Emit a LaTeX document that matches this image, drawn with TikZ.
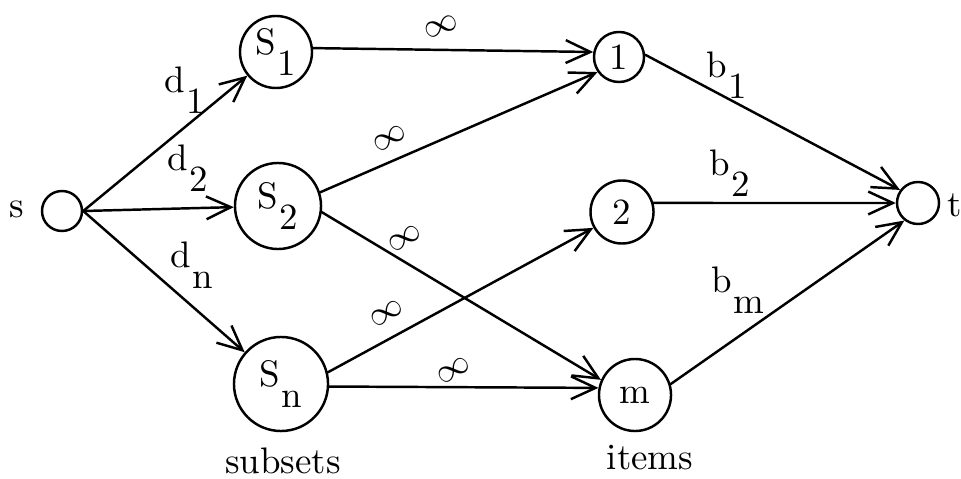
\documentclass[tikz,border=0pt]{standalone}
\usetikzlibrary{arrows.meta}
\newcommand\lowsub[2]{#1\kern0.3pt\raisebox{-0.58em}{#2}}

\begin{document}
\begin{tikzpicture}[x=0.01cm,y=-0.01cm,line cap=round,line join=round,
  >={Straight Barb[length=7pt,width=6.5pt]},
  every node/.style={inner sep=1pt,font=\fontsize{10.5}{12}\selectfont},
  vertex/.style={draw,circle,line width=0.7pt},
  flow/.style={->,line width=0.7pt},
  cap label/.style={inner sep=0pt,scale=0.9,rotate=30}]
  \useasboundingbox (0,0) rectangle (961,479);
  % source, sink
  \node[vertex,minimum size=0.40cm] (s) at (62,211) {};
  \node[vertex,minimum size=0.42cm] (t) at (918,203) {};
  \node (sname) at (17,209) {s};
  \node (tname) at (955,205) {t};
  % subsets
  \node[vertex,minimum size=0.72cm] (S1) at (276,52) {\lowsub{S}{1}};
  \node[vertex,minimum size=0.86cm] (S2) at (278,206) {\lowsub{S}{2}};
  \node[vertex,minimum size=0.94cm] (Sn) at (281,384) {\lowsub{S}{n}};
  % items
  \node[vertex,minimum size=0.50cm] (1) at (619,57) {1};
  \node[vertex,minimum size=0.63cm] (2) at (622,212) {2};
  \node[vertex,minimum size=0.72cm] (m) at (635,395) {m};
  \node (subsets) at (283,461) {subsets};
  \node (items) at (650,458) {items};
  % arcs
  \draw[flow] (s.east) -- (S1);
  \draw[flow] (s.east) -- (S2);
  \draw[flow] (s.east) -- (Sn);
  \draw[flow] (S1.6) -- (1.169);
  \draw[flow] (S2.18) -- (1.215);
  \draw[flow] (S2.-8) -- (m.156);
  \draw[flow] (Sn.14) -- (2.209);
  \draw[flow] (Sn.-3) -- (m.169);
  \draw[flow] (1.5) -- (t.144);
  \draw[flow] (2.16) -- (t.180);
  \draw[flow] (m.17) -- (t.232);
  % capacities
  \node (d1) at (185,90) {\lowsub{d}{1}};
  \node (d2) at (188,168) {\lowsub{d}{2}};
  \node (dn) at (192,265) {\lowsub{d}{n}};
  \node[cap label,rotate=-10] (inf1) at (441,27) {$\infty$};
  \node[cap label] (inf2) at (390,138) {$\infty$};
  \node[cap label] (inf3) at (405,238) {$\infty$};
  \node[cap label] (inf4) at (387,313) {$\infty$};
  \node[cap label] (inf5) at (454,370) {$\infty$};
  \node (b1) at (727,75) {\lowsub{b}{1}};
  \node (b2) at (730,173) {\lowsub{b}{2}};
  \node (bm) at (738,290) {\lowsub{b}{m}};
\end{tikzpicture}
\end{document}
